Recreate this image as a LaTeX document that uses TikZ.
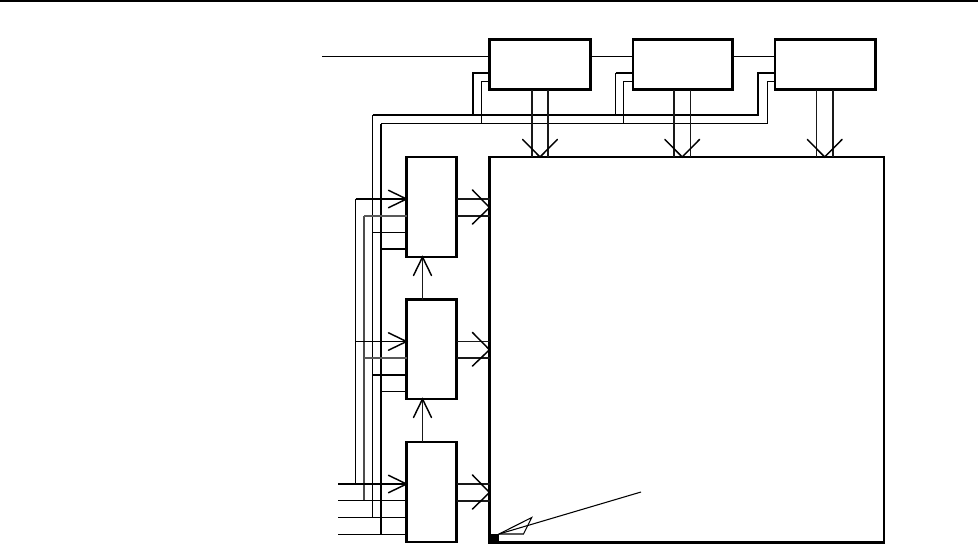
\documentclass[tikz,border=0pt]{standalone}
\tikzset{
  x=0.75pt,y=-0.75pt,
  blockbox/.style={draw=black,line width=2.2pt,inner sep=0pt,outer sep=0pt},
  sidebox/.style={draw=black,line width=1.9pt,inner sep=0pt,outer sep=0pt,minimum width=37.5pt},
  thinw/.style={line width=0.8pt},
  thickw/.style={line width=1.6pt},
  midw/.style={line width=1.3pt,draw=black!65},
  busw/.style={line width=1.2pt,draw=black!90},
  head/.style={line width=1.1pt,line cap=round,line join=miter}
}
\begin{document}
\begin{tikzpicture}
\useasboundingbox (0,0) rectangle (978,544);

% frame rule
\coordinate (tl) at (0,1); \coordinate (tr) at (978,1);
\draw[line width=1.5pt] (tl) -- (tr);

% boxes
\node[blockbox,minimum width=75.75pt,minimum height=37.5pt] (t1) at (540,64.5) {};
\node[blockbox,minimum width=74.625pt,minimum height=37.5pt] (t2) at (682.75,64.5) {};
\node[blockbox,minimum width=75.375pt,minimum height=37.5pt] (t3) at (825.25,64.5) {};
\node[blockbox,minimum width=295.875pt,minimum height=289.125pt] (big) at (686.75,349.75) {};
\node[sidebox,minimum height=75pt] (s1) at (431.5,207) {};
\node[sidebox,minimum height=74.625pt] (s2) at (431.5,349.25) {};
\node[sidebox,line width=1.7pt,minimum height=75pt] (s3) at (431.5,492) {};

% signal line through the top row
\coordinate (s0) at (322,56.5);
\draw[thinw] (s0) -- (t1.west |- s0);
\draw[thinw] (t1.east |- s0) -- (t2.west |- s0);
\draw[thinw] (t2.east |- s0) -- (t3.west |- s0);

% bus A: thick horizontal, thin riser
\coordinate (aT) at (372.5,115);
\coordinate (aB) at (372.5,517.5);
\coordinate (aE) at (758,115);
\draw[thinw] (aB) -- (aT);
\draw[thickw,line join=miter] (aT) -- (aE) -- (758,73) -- (t3.west |- 0,73);
\draw[thickw,line join=miter] (473,115) -- (473,73) -- (t1.west |- 0,73);
\draw[thinw] (615.5,115) -- (615.5,73);
\draw[thickw] (615.5,73) -- (t2.west |- 0,73);

% bus B: thin horizontal, thick riser
\coordinate (bT) at (381,123.5);
\coordinate (bB) at (381,534.5);
\coordinate (bE) at (767.5,123.5);
\draw[thickw] (bB) -- (bT);
\draw[thinw,line join=miter] (bT) -- (bE) -- (767.5,81.5) -- (t3.west |- 0,81.5);
\draw[thinw,line join=miter] (481.5,123.5) -- (481.5,81.5) -- (t1.west |- 0,81.5);
\draw[thinw,line join=miter] (623.5,123.5) -- (623.5,81.5) -- (t2.west |- 0,81.5);

% left risers
\coordinate (cT) at (355.5,199); \coordinate (cB) at (355.5,484);
\coordinate (dT) at (364,215.7); \coordinate (dB) at (364,500.7);
\draw[thinw] (cB) -- (cT);
\draw[line width=1.6pt,draw=black!70] (dB) -- (dT);

% inputs, box 1
\draw[thickw] (cT) -- (s1.west |- cT);
\draw[midw] (dT) -- (s1.west |- dT);
\draw[thinw] (372.5,232.5) -- (s1.west |- 0,232.5);
\draw[thickw] (381,249) -- (s1.west |- 0,249);
% inputs, box 2
\draw[thinw] (355.5,341.5) -- (s2.west |- 0,341.5);
\draw[midw] (364,358.3) -- (s2.west |- 0,358.3);
\draw[thickw] (372.5,375) -- (s2.west |- 0,375);
\draw[thinw] (381,391.5) -- (s2.west |- 0,391.5);
% inputs, box 3
\draw[thickw] (338,484) -- (s3.west |- 0,484);
\draw[thinw] (338,500.5) -- (s3.west |- 0,500.5);
\draw[thinw] (338,517.5) -- (s3.west |- 0,517.5);
\draw[thinw] (338,534.5) -- (s3.west |- 0,534.5);

% input arrowheads
\foreach \yy/\bx in {199/s1,341.5/s2,484/s3}{
  \draw[head] (388.5,\yy-8.7) -- (\bx.west |- 0,\yy) -- (388.5,\yy+8.7);
}

% two-line outputs into the large box
\foreach \ya/\yb/\bx in {199/216/s1,341.5/358/s2,484/501/s3}{
  \draw[busw] (\bx.east |- 0,\ya) -- (big.west |- 0,\ya);
  \draw[busw] (\bx.east |- 0,\yb) -- (big.west |- 0,\yb);
  \draw[head] (472.5,\ya-9) -- (big.west |- 0,{(\ya+\yb)/2}) -- (472.5,\yb+8);
}

% two-line outputs of the top boxes
\foreach \xa/\xb/\xc/\bx in {531.8/547.8/540/t1,673.8/690.3/682.2/t2,816.3/832.8/824.7/t3}{
  \draw[busw] (\bx.south -| \xa,0) -- (big.north -| \xa,0);
  \draw[busw] (\bx.south -| \xb,0) -- (big.north -| \xb,0);
  \draw[head] (\xc-17.3,139.5) -- (big.north -| \xc,0) -- (\xc+17.3,139.5);
}

% links between the side boxes
\draw[busw] (s2.north -| 422.3,0) -- (s1.south -| 422.3,0);
\draw[busw] (s3.north -| 422.3,0) -- (s2.south -| 422.3,0);
\foreach \yy/\bx in {257.5/s1,399.5/s2}{
  \draw[head] (413.5,\yy+18) -- (\bx.south -| 422.5,0) -- (431.5,\yy+18);
}

% corner cell and leader
\fill (488.5,534) rectangle (499,544);
\coordinate (lead) at (641,492);
\coordinate (leadTip) at (499,534);
\draw[thinw] (lead) -- (leadTip);
\draw[thinw,line join=miter] (leadTip) -- (531.7,517.5) -- (523.5,534) -- cycle;
\end{tikzpicture}
\end{document}
